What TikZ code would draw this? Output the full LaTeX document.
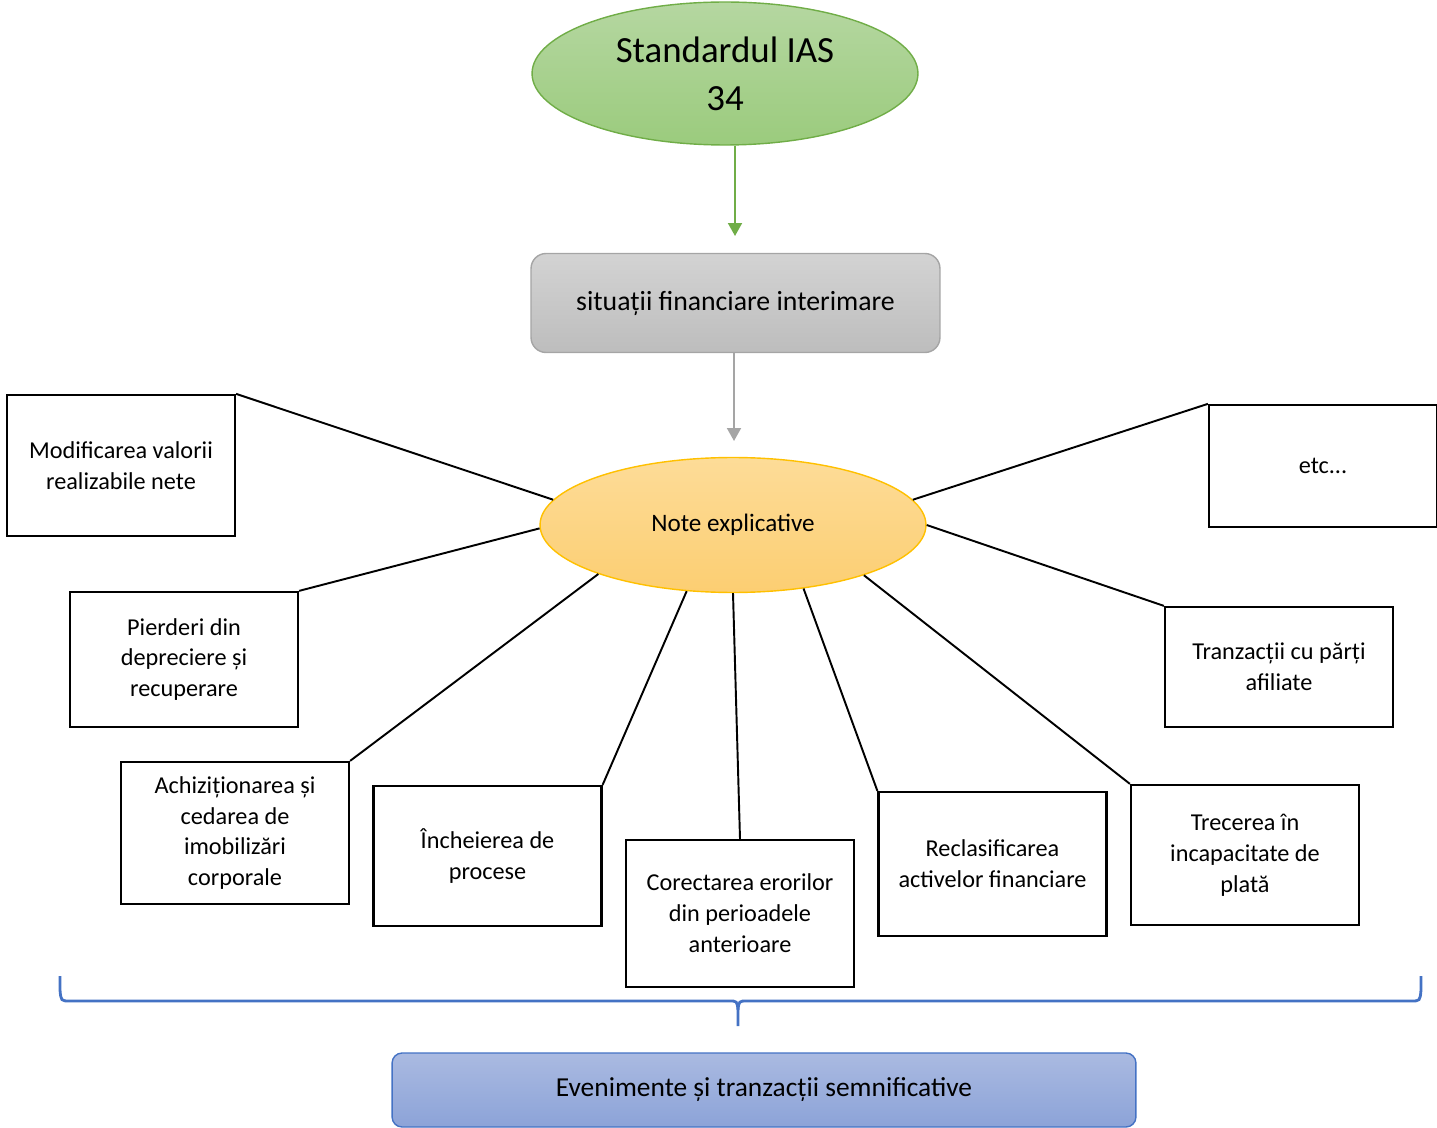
\documentclass[tikz,border=0pt]{standalone}
\usepackage{fontspec}
\setmainfont{Carlito}
\usepackage{tikz}
\usetikzlibrary{shapes,arrows.meta,positioning}

\definecolor{iasgreen}{HTML}{70AD47}
\definecolor{iastop}{HTML}{B5D7A1}
\definecolor{iasbot}{HTML}{9BCB7D}
\definecolor{sitgray}{HTML}{A5A5A5}
\definecolor{sittop}{HTML}{D3D3D3}
\definecolor{sitbot}{HTML}{BDBDBD}
\definecolor{noteline}{HTML}{FFC000}
\definecolor{notetop}{HTML}{FDDC98}
\definecolor{notebot}{HTML}{FCCE72}
\definecolor{evblue}{HTML}{4472C4}
\definecolor{evtop}{HTML}{AABAE1}
\definecolor{evbot}{HTML}{8CA3D8}

\begin{document}
\begin{tikzpicture}[x=0.02cm,y=-0.02cm,
        card/.style={draw, line width=1.3pt, rectangle, fill=white, inner sep=0pt,
            minimum width=4.56cm, align=center, font=\fontsize{13.8}{17.6}\selectfont},
        spoke/.style={line width=1.1pt},
        tip/.style={-{Triangle[length=0.26cm,width=0.28cm]}, line width=1.1pt}]
                \useasboundingbox (0,0) rectangle (1437,1128);
                \node[draw=iasgreen, line width=0.8pt, ellipse, inner sep=0pt, minimum width=7.72cm, minimum height=2.86cm,
                    top color=iastop, bottom color=iasbot, align=center, font=\fontsize{21}{27.2}\selectfont] (ias) at (725,73.5) {Standardul IAS\\34};
                \node[draw=sitgray, line width=0.8pt, rectangle, rounded corners=0.3cm, inner sep=0pt, minimum width=8.18cm, minimum height=1.98cm,
                    top color=sittop, bottom color=sitbot, font=\fontsize{15.8}{19}\selectfont] (sit) at (735.5,303) {situații financiare interimare};
                \node[draw=noteline, line width=0.8pt, ellipse, inner sep=0pt, minimum width=7.72cm, minimum height=2.7cm,
                    top color=notetop, bottom color=notebot, font=\fontsize{14.3}{17}\selectfont] (note) at (733,525) {Note explicative};
                \coordinate (sitin) at (735,236);
                \coordinate (notein) at (734,441);
                \draw[tip, iasgreen] (sitin |- ias.south) -- (sitin);
                \draw[tip, sitgray] (notein |- sit.south) -- (notein);

                \node[card, minimum height=2.82cm] (mod) at (121,465.5) {Modificarea valorii\\realizabile nete};
                \node[card, minimum height=2.7cm] (pie) at (184,659.5) {Pierderi din\\depreciere și\\recuperare};
                \node[card, minimum height=2.84cm] (ach) at (235,833) {Achiziționarea și\\cedarea de\\imobilizări\\corporale};
                \node[card, minimum height=2.8cm] (inc) at (487.5,856) {Încheierea de\\procese};
                \node[card, minimum height=2.94cm] (cor) at (740,913.5) {Corectarea erorilor\\din perioadele\\anterioare};
                \node[card, minimum height=2.88cm] (rec) at (992.5,864) {Reclasificarea\\activelor financiare};
                \node[card, minimum height=2.8cm] (tre) at (1245,855) {Trecerea în\\incapacitate de\\plată};
                \node[card, minimum height=2.4cm] (tra) at (1279,667) {Tranzacții cu părți\\afiliate};
                \node[card, minimum height=2.44cm] (etc) at (1323,466) {etc...};

                \draw[spoke] (mod.north east) -- (note.172);
                \draw[spoke] (pie.north east) -- (note.181);
                \draw[spoke] (ach.north east) -- (note.200);
                \draw[spoke] (inc.north east) -- (note.235);
                \draw[spoke] (cor.north) -- (note.south);
                \draw[spoke] (rec.north west) -- (note.318);
                \draw[spoke] (tre.north west) -- (note.339);
                \draw[spoke] (tra.north west) -- (note.0);
                \draw[spoke] (etc.north west) -- (note.8);

                % acolada
                \draw[evblue, line width=1.6pt] (60,976) -- (60,990) .. controls (61,1001) .. (70,1001) -- (729,1001)
                    .. controls (737,1001) .. (738,1010) -- (738,1026);
                \draw[evblue, line width=1.6pt] (738,1010) .. controls (739,1001) .. (747,1001) -- (1411,1001)
                    .. controls (1420,1001) .. (1421,990) -- (1421,976);

                \node[draw=evblue, line width=0.8pt, rectangle, rounded corners=0.2cm, inner sep=0pt, minimum width=14.88cm, minimum height=1.48cm,
                    top color=evtop, bottom color=evbot, font=\fontsize{15.6}{19}\selectfont] (ev) at (764,1090) {Evenimente și tranzacții semnificative};
            \end{tikzpicture}
\end{document}
